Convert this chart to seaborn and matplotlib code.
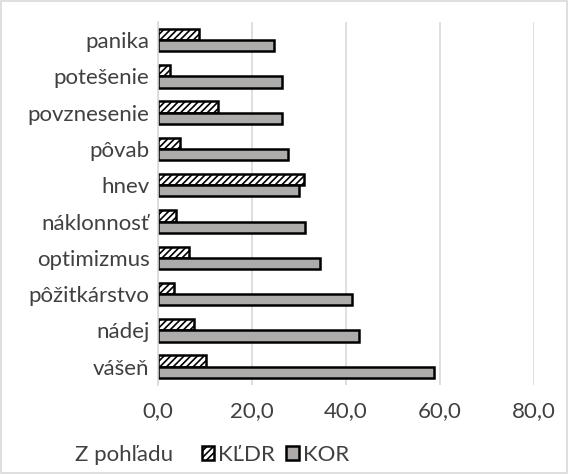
import pandas as pd
import seaborn as sns
import matplotlib.pyplot as plt
from matplotlib.ticker import FuncFormatter
from matplotlib.patches import Patch, Rectangle

categories = ['panika', 'potešenie', 'povznesenie', 'pôvab', 'hnev',
              'náklonnosť', 'optimizmus', 'pôžitkárstvo', 'nádej', 'vášeň']
kldr = [8.7, 2.6, 12.7, 4.8, 31.1, 3.8, 6.7, 3.4, 7.6, 10.2]
kor = [24.7, 26.3, 26.5, 27.7, 30.0, 31.4, 34.4, 41.2, 42.7, 58.7]
series = ['KĽDR', 'KOR']
xticks = [0, 20, 40, 60, 80]

df = pd.DataFrame({'emocia': categories * 2,
                   'hodnota': kldr + kor,
                   'pohlad': [series[0]] * len(kldr) + [series[1]] * len(kor)})

sns.set_style('white')
plt.rcParams['font.family'] = ['Lato', 'DejaVu Sans']
plt.rcParams['hatch.linewidth'] = 1.2

fig = plt.figure(figsize=(5.68, 4.74), dpi=100)
ax = fig.add_axes([0.278, 0.188, 0.662, 0.766])

gray = '#aeaaaa'
sns.barplot(data=df, y='emocia', x='hodnota', hue='pohlad', order=categories,
            hue_order=series, palette=['white', gray], width=0.62,
            edgecolor='black', linewidth=1.8, orient='h', ax=ax, legend=False)
for bar in ax.containers[0]:
    bar.set_hatch('/////')

ax.set_xlim(0, 80)
ax.set_xticks(xticks)
ax.xaxis.set_major_formatter(FuncFormatter(lambda v, p: f'{v:.1f}'.replace('.', ',')))
ax.grid(axis='x', color='#d9d9d9', linewidth=1.2)
ax.set_axisbelow(True)
for s in ['top', 'right', 'bottom']:
    ax.spines[s].set_visible(False)
ax.spines['left'].set_color('#d9d9d9')
ax.spines['left'].set_linewidth(1.2)
ax.tick_params(axis='both', length=0, labelsize=16, colors='#404040', pad=6)
ax.tick_params(axis='x', pad=12)
ax.set_xlabel('')
ax.set_ylabel('')

handles = [Patch(facecolor='white', edgecolor='black', hatch='/////', linewidth=1.8),
           Patch(facecolor=gray, edgecolor='black', linewidth=1.8)]
fig.text(0.132, 0.04, 'Z pohľadu', fontsize=16, color='#404040', va='center')
fig.legend(handles, series, loc='center left', bbox_to_anchor=(0.32, 0.04),
           ncol=2, frameon=False, fontsize=16, handlelength=0.55, handleheight=0.55,
           handletextpad=0.2, columnspacing=0.5, labelcolor='#404040')

fig.patches.append(Rectangle((0.002, 0.002), 0.996, 0.996, transform=fig.transFigure,
                             fill=False, edgecolor='#d9d9d9', linewidth=1.2))

fig.savefig('out.png', dpi=100)
